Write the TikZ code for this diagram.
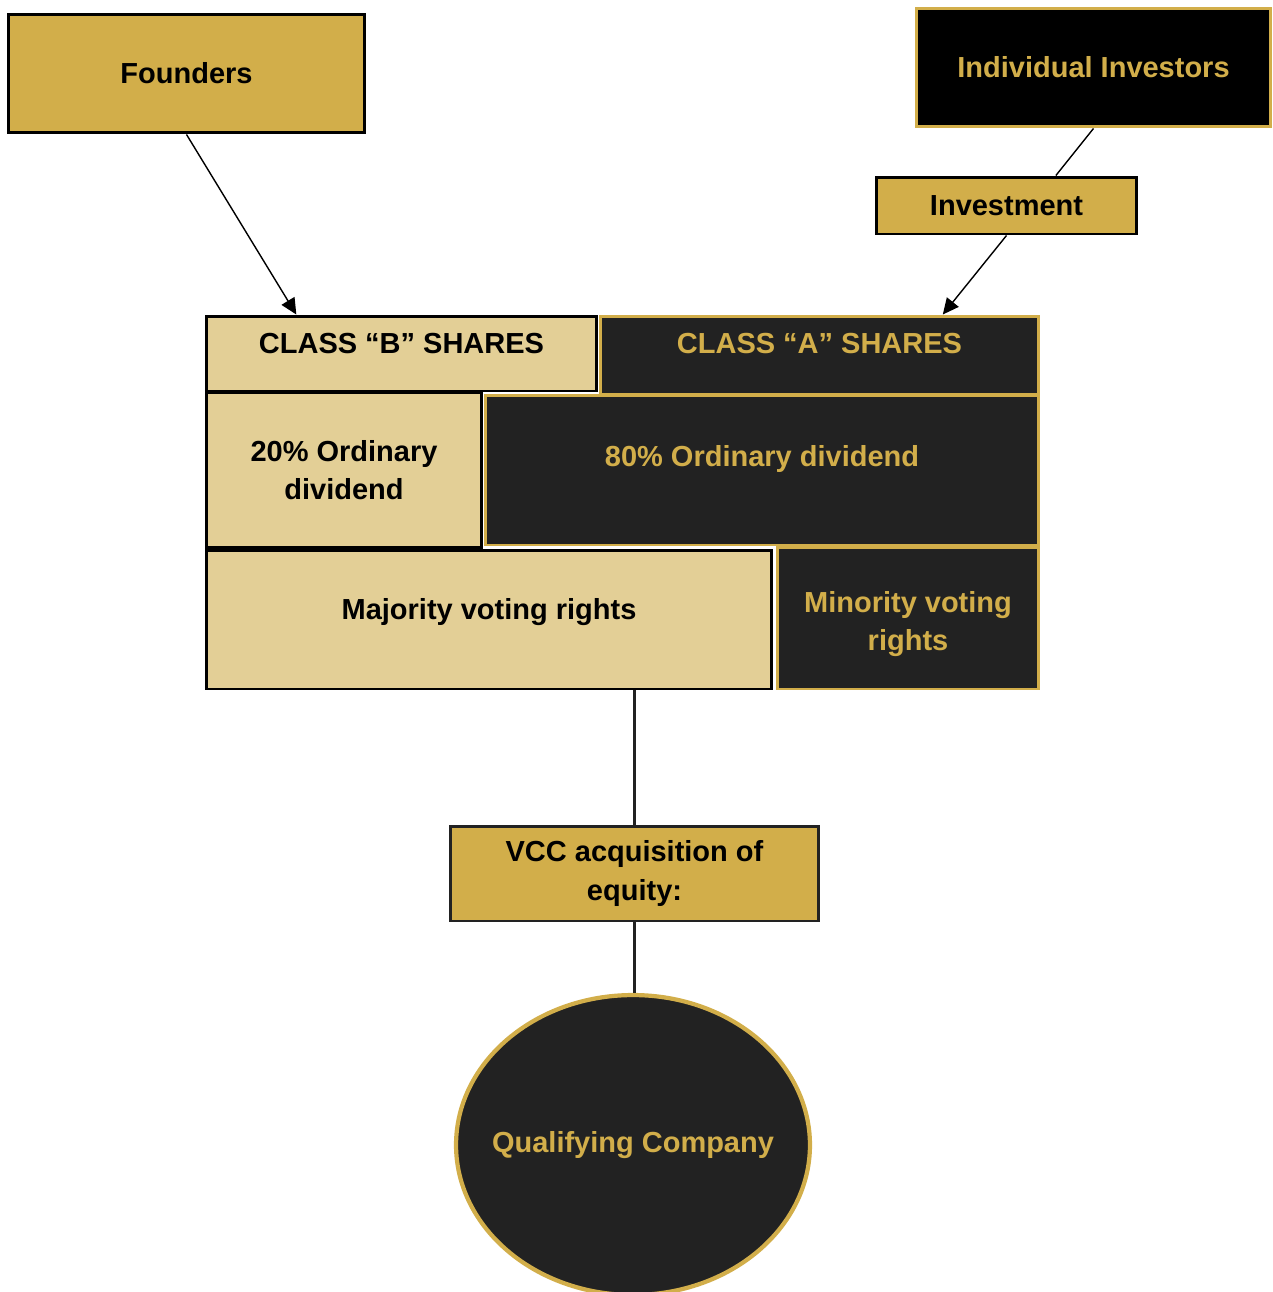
\documentclass[tikz,border=0pt]{standalone}
\usepackage{fontspec}
\setmainfont{Liberation Sans}
\usepackage{tikz}
\usetikzlibrary{shapes, positioning}
\usetikzlibrary{calc}
\usetikzlibrary{arrows.meta}
\definecolor{goldbox}{RGB}{210,174,74}
\definecolor{tanbox}{RGB}{227,207,150}
\definecolor{darkbox}{RGB}{34,34,34}

\begin{document}
\begin{tikzpicture}[x=0.02cm, y=-0.02cm,
		font=\fontsize{16.5pt}{22pt}\selectfont\bfseries,
		goldnode/.style={draw=black, line width=1.7pt, fill=goldbox, text=black, align=center, inner sep=0pt},
		tannode/.style={draw=black, line width=1.7pt, fill=tanbox, text=black, align=center, inner sep=0pt},
		darknode/.style={draw=goldbox, line width=1.7pt, fill=darkbox, text=goldbox, align=center, inner sep=0pt},
		thinarrow/.style={line width=0.8pt, -{Triangle[length=0.32cm, width=0.3cm]}},
		stem/.style={line width=2.2pt, draw=darkbox}]
		
		% keep the page the size of the reference
		\useasboundingbox (0,0) rectangle (1273,1292);
		
		% top boxes
		\node[goldnode, minimum width=7.14cm, minimum height=2.38cm] (founders) at (186.5,73.5) {Founders};
		\node[darknode, draw=goldbox, fill=black, minimum width=7.1cm, minimum height=2.38cm] (investors) at (1093.5,67.5) {Individual Investors};
		\node[goldnode, minimum width=5.22cm, minimum height=1.14cm] (investment) at (1006.5,205.5) {Investment};
		
		% share classes
		\node[tannode, minimum width=7.82cm, minimum height=1.5cm,
			label={[text=black, yshift=0.19cm]center:CLASS “B” SHARES}] (classB) at (401.5,353.5) {};
		\node[darknode, minimum width=8.78cm, minimum height=1.56cm,
			label={[text=goldbox, yshift=0.22cm]center:CLASS “A” SHARES}] (classA) at (819.5,355) {};
		
		% dividends
		\node[tannode, minimum width=5.52cm, minimum height=3.12cm] (div20) at (344,470) {20\% Ordinary\\dividend};
		\node[darknode, minimum width=11.08cm, minimum height=3cm,
			label={[text=goldbox, yshift=0.22cm]center:80\% Ordinary dividend}] (div80) at (762,470) {};
		
		% voting rights
		\node[tannode, minimum width=11.32cm, minimum height=2.78cm,
			label={[text=black, yshift=0.15cm]center:Majority voting rights}] (majority) at (489,619.5) {};
		\node[darknode, minimum width=5.24cm, minimum height=2.84cm,
			label={[text=goldbox, align=center, yshift=-0.12cm]center:Minority voting\\rights}] (minority) at (908,618) {};
		
		% acquisition and company
		\node[goldnode, draw=darkbox, minimum width=7.38cm, minimum height=1.9cm] (vcc) at (634.5,873.5) {VCC acquisition of\\equity:};
		\node[darknode, ellipse, line width=2.4pt, minimum width=7.08cm, minimum height=6cm,
			label={[text=goldbox]center:Qualifying Company}] (company) at (633,1145) {};
		
		% free ends of the connectors
		\coordinate (bTop) at ($(classB.north west)!0.233!(classB.north east)$);
		\coordinate (aTop) at ($(classA.north west)!0.779!(classA.north east)$);
		\coordinate (invTop) at ($(investment.north west)!0.687!(investment.north east)$);
		
		% arrows into the share classes
		\draw[thinarrow] (founders.south) -- (bTop);
		\draw[line width=0.8pt] (investors.south) -- (invTop);
		\draw[thinarrow] (investment.south) -- (aTop);
		
		% draw the stems down to the company
		\draw[stem] (vcc.north |- majority.south) -- (vcc.north);
		\draw[stem] (vcc.south) -- (vcc.south |- company.north);
	\end{tikzpicture}
\end{document}
